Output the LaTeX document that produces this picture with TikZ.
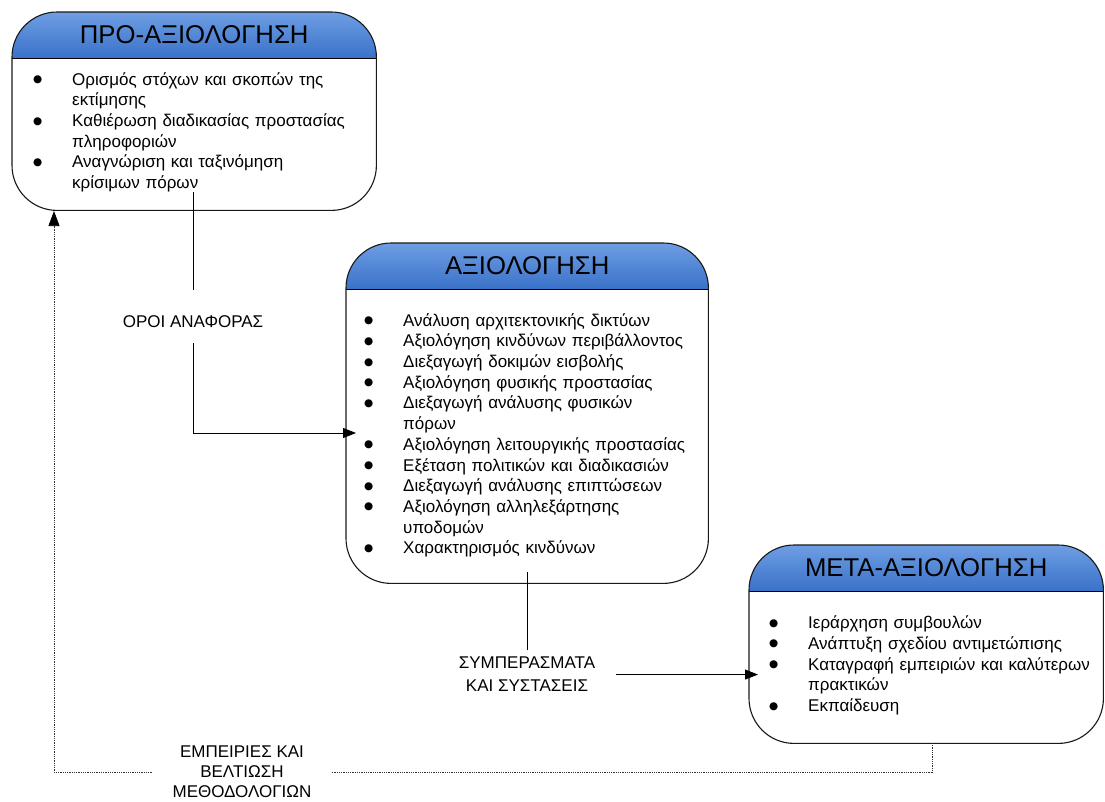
\documentclass[tikz,border=0pt]{standalone}
\usepackage{fontspec}
\setmainfont{Liberation Sans}
\newfontfamily\symbolfont{DejaVu Sans}
\usetikzlibrary{arrows.meta,calc}

\definecolor{headtop}{HTML}{6E9EE3}
\definecolor{headbot}{HTML}{3A72C9}

% bulleted entry with hanging indent for wrapped lines
\newcommand{\bulletmark}{\raisebox{2.5pt}{\symbolfont\fontsize{10.5}{10.5}\selectfont ●}}
\newcommand{\bitem}[1]{\noindent\hangindent=37pt\hangafter=1%
  \makebox[37pt][l]{\strut\hspace{-2pt}\bulletmark}#1\par}

\tikzset{
  stagebody/.style={fill=white, draw=none, rounded corners=45pt, inner sep=0pt, anchor=north west},
  stageedge/.style={draw=black!90, line width=1.1pt, rounded corners=45pt},
  headtext/.style={font=\fontsize{25.7}{30}\selectfont, inner sep=0pt},
  itemlist/.style={anchor=north west, inner sep=0pt, text width=370pt, align=left,
                   font=\fontsize{17}{20.7}\selectfont},
  flowlabel/.style={align=center, font=\fontsize{17}{20}\selectfont},
  flow/.style={line width=0.8pt, -{Triangle[length=13pt,width=10pt]}},
  plainline/.style={line width=0.8pt},
  feedback/.style={line width=0.7pt, dash pattern=on 1pt off 0.8pt, draw=black!80},
}

% stage box: name, x, y, width, height, title
\newcommand{\stagebox}[6]{%
  \node[stagebody, minimum width=#4pt, minimum height=#5pt] (#1) at (#2,#3) {};
  \begin{scope}
    \clip[rounded corners=45pt] (#1.north west) rectangle (#1.south east);
    \shade[top color=headtop, bottom color=headbot]
      (#1.north west) rectangle ($(#1.north east)+(0,46)$);
  \end{scope}
  \draw[line width=1pt] ($(#1.north west)+(0,46)$) -- ($(#1.north east)+(0,46)$);
  \draw[stageedge] (#1.north west) rectangle (#1.south east);
  \node[headtext] (#1-title) at ($(#1.north)+(0,23)$) {#6};
}

\begin{document}
\begin{tikzpicture}[x=1pt,y=-1pt]
\useasboundingbox (0,0) rectangle (1105,801);

% ---- the three stages ----
\stagebox{pre}{12}{12}{364}{198}{ΠΡΟ-ΑΞΙΟΛΟΓΗΣΗ}
\stagebox{eval}{346}{243}{362}{340}{ΑΞΙΟΛΟΓΗΣΗ}
\stagebox{post}{749}{545}{354}{198}{ΜΕΤΑ-ΑΞΙΟΛΟΓΗΣΗ}

\node[itemlist] (pre-list) at (35,70.5) {%
  \bitem{Ορισμός στόχων και σκοπών της\newline εκτίμησης}
  \bitem{Καθιέρωση διαδικασίας προστασίας\newline πληροφοριών}
  \bitem{Αναγνώριση και ταξινόμηση\newline κρίσιμων πόρων}};

\node[itemlist] (eval-list) at (366,311.5) {%
  \bitem{Ανάλυση αρχιτεκτονικής δικτύων}
  \bitem{Αξιολόγηση κινδύνων περιβάλλοντος}
  \bitem{Διεξαγωγή δοκιμών εισβολής}
  \bitem{Αξιολόγηση φυσικής προστασίας}
  \bitem{Διεξαγωγή ανάλυσης φυσικών\newline πόρων}
  \bitem{Αξιολόγηση λειτουργικής προστασίας}
  \bitem{Εξέταση πολιτικών και διαδικασιών}
  \bitem{Διεξαγωγή ανάλυσης επιπτώσεων}
  \bitem{Αξιολόγηση αλληλεξάρτησης\newline υποδομών}
  \bitem{Χαρακτηρισμός κινδύνων}};

\node[itemlist] (post-list) at (771,614) {%
  \bitem{Ιεράρχηση συμβουλών}
  \bitem{Ανάπτυξη σχεδίου αντιμετώπισης}
  \bitem{Καταγραφή εμπειριών και καλύτερων\newline πρακτικών}
  \bitem{Εκπαίδευση}};

% ---- connector: terms of reference ----
\coordinate (c1) at (193,192);
\coordinate (a2in) at (356,433);
\node[flowlabel, text height=37pt, text depth=16pt, inner ysep=0pt, anchor=base]
  (lab1) at (193,327) {ΟΡΟΙ ΑΝΑΦΟΡΑΣ};
\draw[plainline] (c1) -- (lab1.north);
\draw[flow] (lab1.south) |- (a2in);

% ---- connector: conclusions and recommendations ----
\coordinate (c2) at (527,572);
\coordinate (a3in) at (758,675);
\node[flowlabel, font=\fontsize{17}{23}\selectfont, inner xsep=21pt, inner ysep=7pt, anchor=north]
  (lab2) at (527,650) {ΣΥΜΠΕΡΑΣΜΑΤΑ\\ΚΑΙ ΣΥΣΤΑΣΕΙΣ};
\draw[plainline] (c2) -- (lab2.north);
\draw[flow] (lab2.east) -- (lab2.east -| a3in);

% ---- feedback loop ----
\coordinate (fbout) at (932,743);
\coordinate (fbin) at (54,211);
\node[flowlabel, inner xsep=20pt, inner ysep=0pt] (lab3) at (242,772)
  {ΕΜΠΕΙΡΙΕΣ ΚΑΙ\\ΒΕΛΤΙΩΣΗ\\ΜΕΘΟΔΟΛΟΓΙΩΝ};
\draw[feedback] (fbout) |- (lab3.east);
\draw[feedback, -{Triangle[length=15pt,width=11pt,black]}] (lab3.west) -| (fbin);

\end{tikzpicture}
\end{document}
